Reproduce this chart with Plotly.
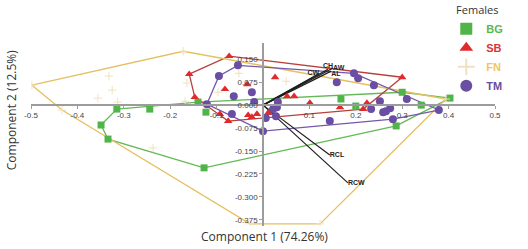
import plotly.graph_objects as go

# ---------------- data ----------------
BG_x = [-0.349, -0.334, -0.315, -0.244, -0.140, -0.123, -0.127, 0.168, 0.200, 0.300, 0.341, 0.403, 0.287]
BG_y = [-0.065, -0.111, -0.013, -0.013, 0.010, -0.023, -0.205, 0.020, -0.003, 0.042, 0.000, 0.023, -0.068]

SB_x = [-0.073, -0.159, -0.147, -0.082, -0.034, 0.026, 0.052, 0.067, 0.101, 0.166, 0.224, 0.216, 0.300,
        -0.093, -0.075, -0.032, -0.024, -0.013, 0.017, 0.026, 0.011]
SB_y = [0.160, 0.101, 0.026, 0.052, 0.068, 0.091, 0.029, 0.029, 0.007, -0.007, 0.007, -0.013, 0.091,
        -0.029, -0.052, -0.033, -0.039, -0.029, -0.016, -0.007, -0.026]

FN_x = [-0.498, -0.433, -0.332, -0.325, -0.356, -0.313, -0.237, -0.172, -0.164, -0.168, -0.097, -0.052,
        0.050, -0.028, 0.123, 0.394]
FN_y = [0.065, -0.016, 0.095, 0.049, 0.023, 0.010, -0.140, 0.176, 0.072, 0.013, 0.042, 0.104,
        0.078, -0.388, -0.388, 0.020]

TM_x = [-0.054, -0.095, -0.121, -0.063, -0.024, -0.019, -0.067, 0.000, 0.006, 0.028, 0.030, 0.032, 0.022,
        0.144, 0.159, 0.196, 0.205, 0.239, 0.252, 0.310, 0.233, 0.259, 0.265, 0.274, 0.280, 0.379]
TM_y = [0.130, 0.095, 0.003, 0.029, 0.042, 0.010, -0.029, -0.085, -0.042, -0.036, -0.007, 0.010, -0.013,
        -0.052, 0.075, 0.104, 0.088, 0.065, 0.013, 0.020, -0.013, -0.023, -0.020, -0.010, -0.046, -0.016]

VEC_names = ["CH", "AW", "AL", "CW", "RCL", "RCW"]
VEC_x = [0.140, 0.151, 0.147, 0.121, 0.144, 0.183]
VEC_y = [0.117, 0.121, 0.111, 0.103, -0.163, -0.254]

X_ticks = [-0.5, -0.4, -0.3, -0.2, -0.1, 0.1, 0.2, 0.3, 0.4, 0.5]
X_ticktext = ["-0.5", "-0.4", "-0.3", "-0.2", "-0.1", "0.1", "0.2", "0.3", "0.4", "0.5"]
Y_ticks = [0.150, 0.075, 0.0, -0.075, -0.150, -0.225, -0.300, -0.375]
Y_ticktext = ["0.150", "0.075", "0.000", "-0.075", "-0.150", "-0.225", "-0.300", "-0.375"]

# ---------------- styles ----------------
X_RANGE = [-0.5, 0.5]
Y_RANGE = [-0.395, 0.203]

groups = [
    dict(name="BG", x=BG_x, y=BG_y, mcolor="#4fb548", lcolor="#63b955", tcolor="#5cb64e",
         symbol="square", size=7, lw=0),
    dict(name="SB", x=SB_x, y=SB_y, mcolor="#e02a2e", lcolor="#b8403a", tcolor="#d9343a",
         symbol="triangle-up", size=7.5, lw=0),
    dict(name="FN", x=FN_x, y=FN_y, mcolor="#efe2bf", lcolor="#e6c060", tcolor="#eec560",
         symbol="cross-thin", size=6, lw=1),
    dict(name="TM", x=TM_x, y=TM_y, mcolor="#6a4ea3", lcolor="#7358ac", tcolor="#6a4ca0",
         symbol="circle", size=8, lw=0),
]


def hull(xs, ys):
    pts = sorted(set(zip(xs, ys)))

    def cross(o, a, b):
        return (a[0] - o[0]) * (b[1] - o[1]) - (a[1] - o[1]) * (b[0] - o[0])

    lower, upper = [], []
    for p in pts:
        while len(lower) >= 2 and cross(lower[-2], lower[-1], p) <= 0:
            lower.pop()
        lower.append(p)
    for p in reversed(pts):
        while len(upper) >= 2 and cross(upper[-2], upper[-1], p) <= 0:
            upper.pop()
        upper.append(p)
    h = lower[:-1] + upper[:-1]
    h.append(h[0])
    return [p[0] for p in h], [p[1] for p in h]


fig = go.Figure()

# hull outlines
for g in groups:
    hx, hy = hull(g["x"], g["y"])
    fig.add_trace(go.Scatter(x=hx, y=hy, mode="lines", line=dict(color=g["lcolor"], width=1.3),
                             showlegend=False, hoverinfo="skip"))

# biplot vectors
for n, vx, vy in zip(VEC_names, VEC_x, VEC_y):
    fig.add_trace(go.Scatter(x=[0, vx], y=[0, vy], mode="lines",
                             line=dict(color="#1e1e1e", width=1.2), showlegend=False, hoverinfo="skip"))

label_pos = ["top center", "middle right", "bottom right", "middle left", "middle right", "middle right"]
fig.add_trace(go.Scatter(x=VEC_x, y=VEC_y, mode="text", text=VEC_names, textposition=label_pos,
                         textfont=dict(family="Liberation Sans", size=7, color="#222222", weight="bold"),
                         showlegend=False, hoverinfo="skip"))

# points
for g in groups:
    mk = dict(color=g["mcolor"], size=g["size"], symbol=g["symbol"])
    if g["lw"]:
        mk["line"] = dict(color=g["mcolor"], width=g["lw"])
    else:
        mk["line"] = dict(width=0)
    fig.add_trace(go.Scatter(
        x=g["x"], y=g["y"], mode="markers", marker=mk,
        name="<b><span style='color:%s'>%s</span></b>" % (g["tcolor"], g["name"])))

xpos = (0 - X_RANGE[0]) / (X_RANGE[1] - X_RANGE[0])
ypos = (0 - Y_RANGE[0]) / (Y_RANGE[1] - Y_RANGE[0])

axis_common = dict(showgrid=False, zeroline=False, showline=True, linecolor="#9c9c9c", linewidth=1.5,
                   ticks="outside", ticklen=3, tickcolor="#9c9c9c", automargin=False,
                   tickfont=dict(family="Liberation Sans", size=8, color="#444444"))

fig.update_layout(
    width=528, height=249,
    margin=dict(l=31, r=33, t=43, b=23, autoexpand=False),
    paper_bgcolor="white", plot_bgcolor="white",
    xaxis=dict(range=X_RANGE, anchor="free", position=ypos, tickvals=X_ticks, ticktext=X_ticktext,
               **axis_common),
    yaxis=dict(range=Y_RANGE, anchor="free", position=xpos, tickvals=Y_ticks, ticktext=Y_ticktext,
               **axis_common),
    legend=dict(x=0.895, y=1.235, xanchor="left", yanchor="top", bgcolor="rgba(0,0,0,0)",
                itemsizing="constant",
                title=dict(text="Females", side="top center",
                           font=dict(family="Open Sans", size=11, color="#333333")),
                font=dict(family="Liberation Sans", size=11)),
    annotations=[
        dict(text="Component 1 (74.26%)", xref="paper", yref="paper", x=0.504, y=-0.06,
             xanchor="center", yanchor="middle", showarrow=False,
             font=dict(family="Open Sans", size=12, color="#333333")),
        dict(text="Component 2 (12.5%)", xref="paper", yref="paper", x=-0.042, y=0.63,
             xanchor="center", yanchor="middle", showarrow=False, textangle=-90,
             font=dict(family="Open Sans", size=12, color="#333333")),
    ],
)

fig.write_html("out.html", config={"displayModeBar": False},
               post_script="document.body.style.margin='0px';")
